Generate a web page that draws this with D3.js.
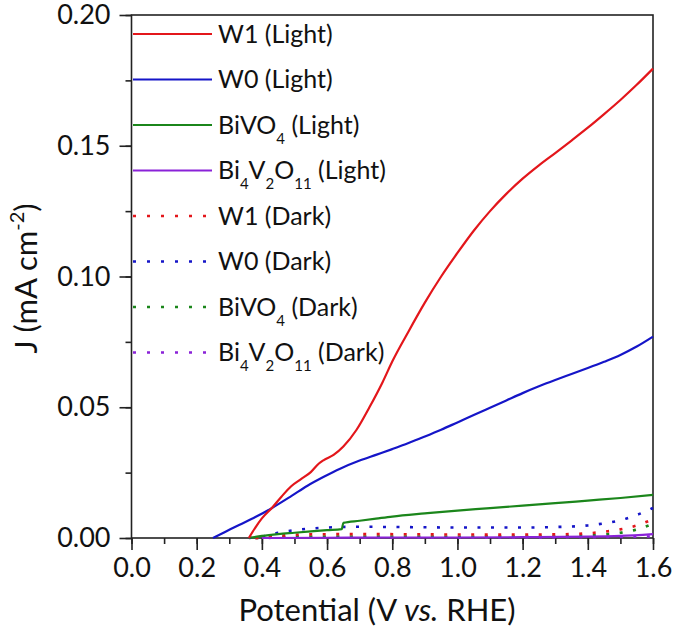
<!DOCTYPE html>
<html>
<head>
<meta charset="utf-8">
<script src="https://d3js.org/d3.v7.min.js"></script>
<style>
  html, body { margin: 0; padding: 0; background: #fff; }
  svg text { font-family: Lato, "Open Sans", sans-serif; fill: #111; }
</style>
</head>
<body>
<div id="chart"></div>
<script>
// J-V curves, potential in V vs RHE, current density in mA cm-2
const w1Light = [[0.36,0],[0.38,0.004],[0.40,0.0075],[0.43,0.0114],[0.46,0.0158],[0.49,0.0198],[0.52,0.0225],
  [0.55,0.0252],[0.575,0.0285],[0.59,0.0298],[0.62,0.0318],[0.65,0.035],[0.69,0.0413],[0.73,0.050],[0.77,0.0595],
  [0.80,0.0675],[0.85,0.079],[0.90,0.090],[0.95,0.100],[1.00,0.109],[1.05,0.1175],[1.10,0.125],[1.15,0.1316],
  [1.20,0.1374],[1.25,0.1425],[1.30,0.1472],[1.35,0.152],[1.40,0.1569],[1.45,0.1621],[1.50,0.1675],[1.55,0.1733],[1.60,0.1795]];
const w0Light = [[0.25,0],[0.29,0.0025],[0.33,0.005],[0.38,0.008],[0.43,0.0114],[0.49,0.016],[0.54,0.020],
  [0.59,0.0234],[0.64,0.0265],[0.70,0.0296],[0.75,0.0318],[0.80,0.034],[0.85,0.0363],[0.90,0.0388],[0.95,0.0414],
  [1.00,0.0442],[1.05,0.047],[1.10,0.0498],[1.15,0.0526],[1.20,0.0554],[1.25,0.058],[1.30,0.0604],[1.35,0.0627],
  [1.40,0.065],[1.45,0.0674],[1.50,0.070],[1.55,0.0732],[1.60,0.077]];
const bivo4Light = [[0.36,0],[0.40,0.0008],[0.45,0.0015],[0.50,0.002],[0.55,0.0025],[0.60,0.003],[0.645,0.0034],
  [0.65,0.0058],[0.70,0.0066],[0.75,0.0074],[0.80,0.0082],[0.90,0.0094],[1.00,0.0105],[1.10,0.0114],[1.20,0.0124],
  [1.30,0.0133],[1.40,0.0143],[1.50,0.0153],[1.60,0.0165]];
const bi4v2o11Light = [[0.40,0],[0.60,0.0001],[0.80,0.0002],[1.00,0.0002],[1.20,0.0003],[1.40,0.0005],[1.50,0.0008],[1.60,0.0015]];
const w1Dark = [[0.38,0],[0.45,0.0008],[0.55,0.0014],[0.70,0.0015],[0.90,0.0014],[1.10,0.0013],[1.30,0.0014],
  [1.40,0.0018],[1.45,0.0024],[1.50,0.0033],[1.55,0.0048],[1.60,0.0072]];
const w0Dark = [[0.36,0],[0.40,0.0005],[0.45,0.002],[0.50,0.003],[0.55,0.0036],[0.60,0.004],[0.70,0.0043],[0.80,0.0042],
  [0.90,0.0041],[1.00,0.004],[1.10,0.004],[1.20,0.004],[1.30,0.0042],[1.40,0.0048],[1.45,0.0056],[1.50,0.0068],
  [1.55,0.0088],[1.60,0.0115]];
const bivo4Dark = [[0.38,0],[0.50,0.0005],[0.70,0.0006],[1.00,0.0005],[1.30,0.0006],[1.40,0.0009],[1.45,0.0013],
  [1.50,0.002],[1.55,0.0032],[1.60,0.0055]];
const bi4v2o11Dark = [[0.38,0],[0.60,0.0002],[1.00,0.0002],[1.40,0.0003],[1.60,0.0006]];

const xTicks = [0.0, 0.2, 0.4, 0.6, 0.8, 1.0, 1.2, 1.4, 1.6];
const yTicks = [0.00, 0.05, 0.10, 0.15, 0.20];

// legend: label parts [text, sub?]
const series = [
  {data: w1Light, color: "#e3161b", dark: false, label: [["W1 (Light)"]]},
  {data: w0Light, color: "#1515c8", dark: false, label: [["W0 (Light)"]]},
  {data: bivo4Light, color: "#1b861b", dark: false, label: [["BiVO"],["4",1],[" (Light)"]]},
  {data: bi4v2o11Light, color: "#8a22d8", dark: false, label: [["Bi"],["4",1],["V"],["2",1],["O"],["11",1],[" (Light)"]]},
  {data: w1Dark, color: "#e3161b", dark: true, label: [["W1 (Dark)"]]},
  {data: w0Dark, color: "#1515c8", dark: true, label: [["W0 (Dark)"]]},
  {data: bivo4Dark, color: "#1b861b", dark: true, label: [["BiVO"],["4",1],[" (Dark)"]]},
  {data: bi4v2o11Dark, color: "#8a22d8", dark: true, label: [["Bi"],["4",1],["V"],["2",1],["O"],["11",1],[" (Dark)"]]}
];

const W = 675, H = 635;
const mLeft = 131.5, mRight = 653, mTop = 15, mBottom = 538;

const svg = d3.select("#chart").append("svg")
  .attr("width", W).attr("height", H);

const x = d3.scaleLinear().domain([0, 1.6]).range([mLeft, mRight]);
const y = d3.scaleLinear().domain([0, 0.2]).range([mBottom, mTop]);

// frame
svg.append("rect")
  .attr("x", mLeft).attr("y", mTop)
  .attr("width", mRight - mLeft).attr("height", mBottom - mTop)
  .attr("fill", "none").attr("stroke", "#222").attr("stroke-width", 1.6);

// x axis
const xAxis = svg.append("g").attr("transform", `translate(0,${mBottom})`);
xAxis.append("g").call(d3.axisBottom(x).tickValues(d3.range(0, 1.61, 0.1)).tickSize(6).tickFormat(""));
xAxis.append("g").call(d3.axisBottom(x).tickValues(xTicks).tickSize(12).tickPadding(8).tickFormat(d3.format(".1f")));
xAxis.selectAll(".domain").remove();
xAxis.selectAll("line").attr("stroke", "#222").attr("stroke-width", 1.6);
xAxis.selectAll("text").attr("font-size", 27).attr("fill", "#111");

// y axis
const yAxis = svg.append("g").attr("transform", `translate(${mLeft},0)`);
yAxis.append("g").call(d3.axisLeft(y).tickValues(d3.range(0, 0.201, 0.025)).tickSize(6).tickFormat(""));
yAxis.append("g").call(d3.axisLeft(y).tickValues(yTicks).tickSize(12).tickPadding(9).tickFormat(d3.format(".2f")));
yAxis.selectAll(".domain").remove();
yAxis.selectAll("line").attr("stroke", "#222").attr("stroke-width", 1.6);
yAxis.selectAll("text").attr("font-size", 27).attr("fill", "#111");

// axis titles
const xt = svg.append("text")
  .attr("x", 377).attr("y", 621)
  .attr("text-anchor", "middle").attr("font-size", 31);
xt.append("tspan").text("Potential (V ");
xt.append("tspan").attr("font-style", "italic").text("vs.");
xt.append("tspan").text(" RHE)");

const yt = svg.append("text")
  .attr("transform", `translate(37,${(mTop + mBottom) / 2 + 2}) rotate(-90)`)
  .attr("text-anchor", "middle").attr("font-size", 31);
yt.append("tspan").text("J (mA cm");
yt.append("tspan").attr("dy", -13).attr("font-size", 20).text("-2");
yt.append("tspan").attr("dy", 13).text(")");

// curves
const line = d3.line().x(d => x(d[0])).y(d => y(d[1])).curve(d3.curveMonotoneX);
svg.append("g").selectAll("path")
  .data(series.slice().reverse())
  .join("path")
  .attr("d", d => line(d.data))
  .attr("fill", "none")
  .attr("stroke", d => d.color)
  .attr("stroke-width", d => d.dark ? 2.6 : 2.2)
  .attr("stroke-dasharray", d => d.dark ? "3,10.5" : null);

// legend
const lg = svg.append("g");
const rowH = 45.5, row0 = 34;
series.forEach((s, i) => {
  const ry = row0 + i * rowH;
  lg.append("line")
    .attr("x1", 133).attr("x2", 212).attr("y1", ry).attr("y2", ry)
    .attr("stroke", s.color)
    .attr("stroke-width", s.dark ? 2.6 : 2.2)
    .attr("stroke-dasharray", s.dark ? "3,11" : null);
  const t = lg.append("text").attr("x", 218).attr("y", ry + 8.5).attr("font-size", 25);
  let down = false;
  s.label.forEach(p => {
    const ts = t.append("tspan").text(p[0]);
    if (p[1]) {
      ts.attr("font-size", 15);
      if (!down) { ts.attr("dy", 10); down = true; }
    } else if (down) {
      ts.attr("dy", -10); down = false;
    }
  });
});
</script>
</body>
</html>
